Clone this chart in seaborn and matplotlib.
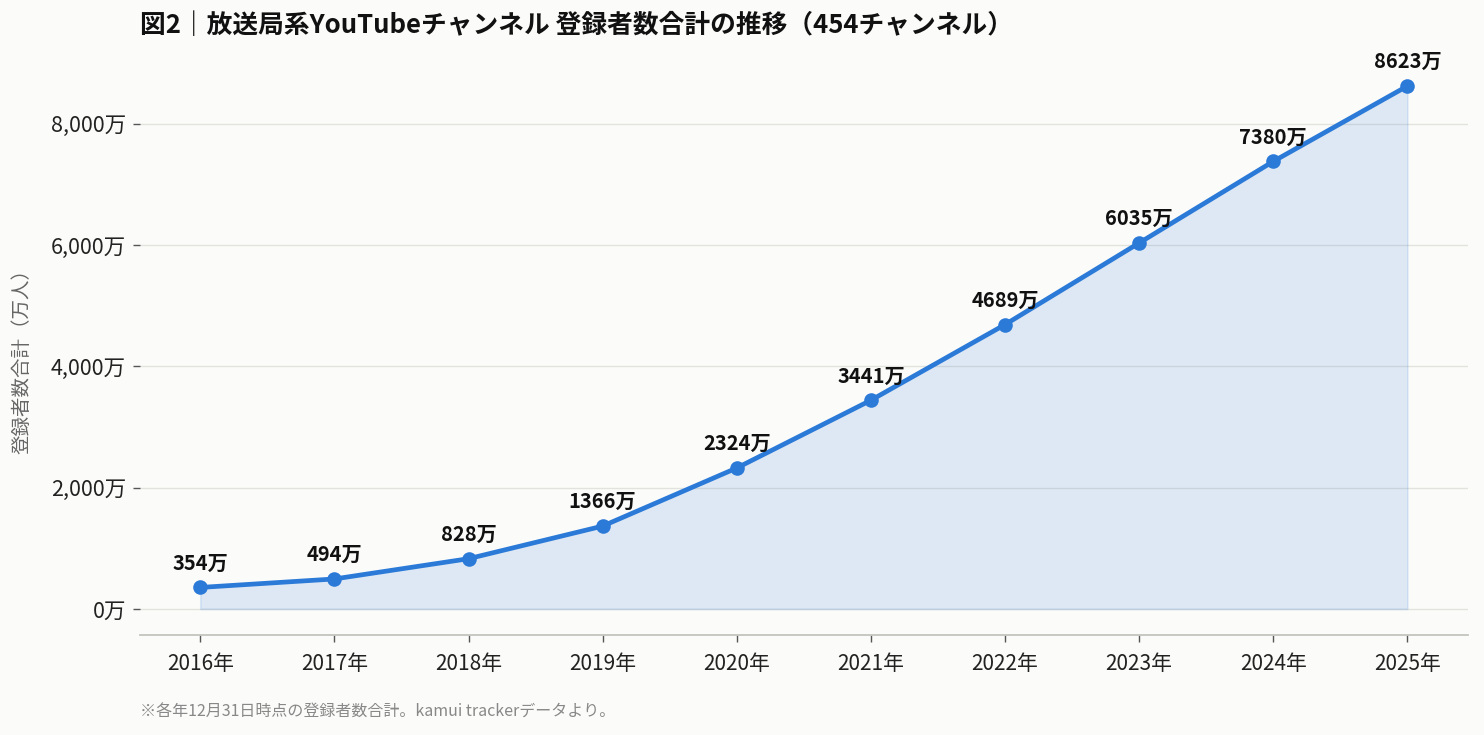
"""Plot total subscriber trend of broadcaster YouTube channels."""

import matplotlib

matplotlib.use("Agg")
import matplotlib.pyplot as plt
import pandas as pd
import seaborn as sns
from matplotlib.ticker import FuncFormatter

# data
years = [2016, 2017, 2018, 2019, 2020, 2021, 2022, 2023, 2024, 2025]
subscribers = [354, 494, 828, 1366, 2324, 3441, 4689, 6035, 7380, 8623]  # 万人
year_labels = [f"{y}年" for y in years]

title = "図2｜放送局系YouTubeチャンネル 登録者数合計の推移（454チャンネル）"
ylabel = "登録者数合計（万人）"
note = "※各年12月31日時点の登録者数合計。kamui trackerデータより。"

BG = "#FBFBF9"
LINE = "#2B7AD8"

sns.set_theme(style="white")
plt.rcParams["font.family"] = ["Noto Sans CJK JP", "DejaVu Sans"]

df = pd.DataFrame({"x": range(len(years)), "value": subscribers})

fig = plt.figure(figsize=(14.84, 7.35), dpi=100, facecolor=BG)
ax = fig.add_axes([0.0943, 0.136, 0.8947, 0.818])
ax.set_facecolor(BG)

# area under the line
ax.fill_between(df["x"], df["value"], 0, color=LINE, alpha=0.14, linewidth=1.2,
                edgecolor=(0.17, 0.48, 0.85, 0.2), zorder=1)

sns.lineplot(data=df, x="x", y="value", ax=ax, color=LINE, linewidth=3.4,
             marker="o", markersize=10.5, markeredgewidth=0, zorder=3)

# value labels
for xi, v in zip(df["x"], df["value"]):
    ax.annotate(f"{v}万", (xi, v), xytext=(0, 10), textcoords="offset points",
                ha="center", va="bottom", fontsize=14.5, fontweight="bold",
                color="#111111")

ax.set_xlim(-0.45, len(years) - 1 + 0.45)
ax.set_ylim(-431, 9485)
ax.set_yticks([0, 2000, 4000, 6000, 8000])
ax.yaxis.set_major_formatter(FuncFormatter(lambda v, _: f"{int(v):,}万"))
ax.set_xticks(list(df["x"]))
ax.set_xticklabels(year_labels)

ax.grid(axis="y", color="#E2E2DE", linewidth=1)
ax.grid(axis="x", visible=False)
ax.set_axisbelow(True)

for side in ["top", "right", "left"]:
    ax.spines[side].set_visible(False)
ax.spines["bottom"].set_color("#C4C4BE")
ax.spines["bottom"].set_linewidth(1.3)

ax.tick_params(axis="both", labelsize=15, labelcolor="#222222", length=5,
               width=1, color="#555555", bottom=True, left=True)
ax.tick_params(axis="y", pad=5, labelsize=15.5)
ax.tick_params(axis="x", pad=8)

ax.set_xlabel("")
ax.set_ylabel(ylabel, fontsize=14, color="#666666")
ax.yaxis.set_label_coords(-0.081, 0.464)

fig.text(0.0943, 0.965, title, fontsize=18.5, fontweight="bold",
         color="#111111", ha="left", va="center")
fig.text(0.0943, 0.031, note, fontsize=11.5, color="#888888",
         ha="left", va="center")

fig.savefig("out.png", dpi=100, facecolor=BG)
